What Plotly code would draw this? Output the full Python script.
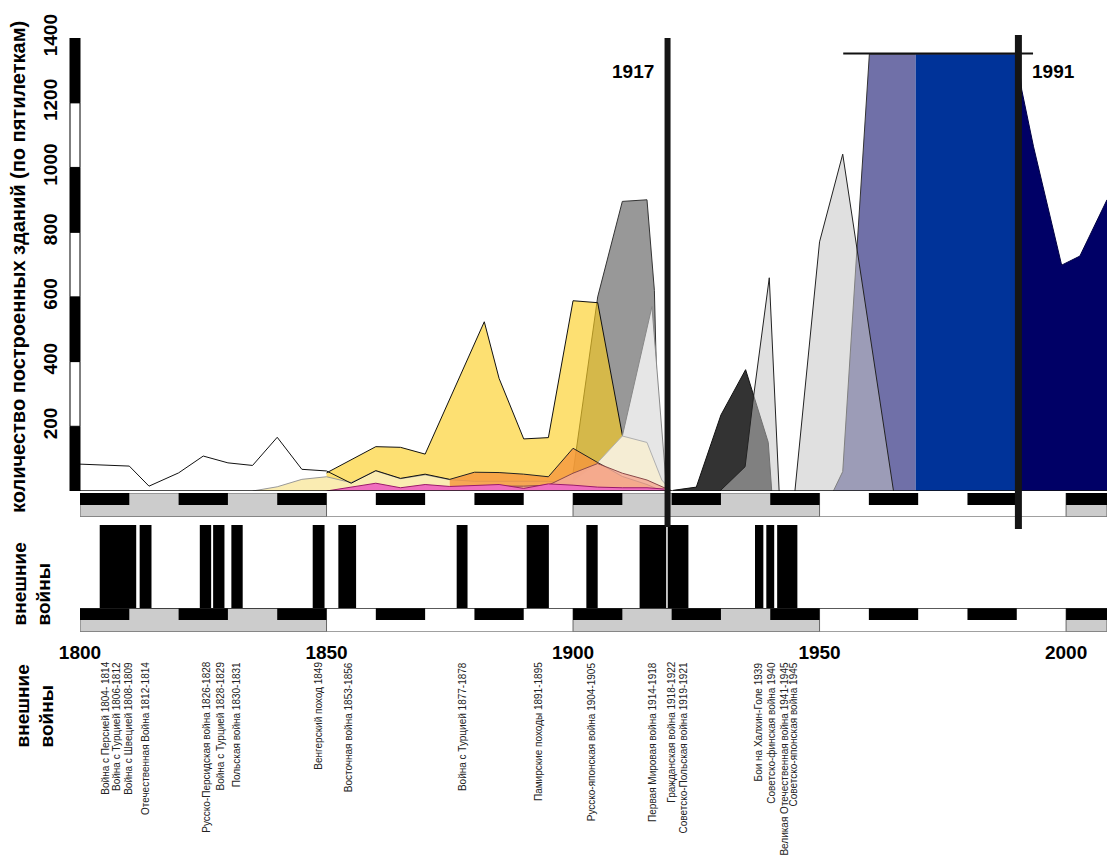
import plotly.graph_objects as go

W, H = 1107, 858
X_MIN, X_MAX = 1800, 2008.3
FONT = "Arial, Liberation Sans, sans-serif"

# ---- buildings per five-year period, one list pair per style ----
classic_years = [1800, 1810, 1814, 1820, 1825, 1830, 1835, 1840, 1845, 1850, 1855, 1860, 1865, 1870, 1875]
classic_vals = [83, 77, 15, 56, 108, 87, 79, 166, 67, 62, 24, 63, 39, 52, 36]

pale_years = [1835, 1840, 1845, 1850, 1855, 1860, 1865, 1870, 1875, 1880, 1885, 1890, 1895, 1900]
pale_vals = [0, 13, 36, 44, 26, 62, 38, 50, 35, 30, 30, 30, 30, 20]

eclectic_years = [1850, 1860, 1865, 1870, 1882, 1885, 1890, 1895, 1900, 1905, 1910]
eclectic_vals = [56, 137, 135, 114, 523, 348, 161, 165, 588, 582, 173]

orange_years = [1875, 1880, 1885, 1890, 1895, 1900, 1905, 1910, 1915, 1918]
orange_vals = [36, 58, 57, 52, 44, 132, 88, 45, 20, 0]

salmon_years = [1875, 1880, 1885, 1890, 1895, 1900, 1905, 1910, 1915, 1918, 1920]
salmon_vals = [10, 15, 15, 15, 18, 55, 85, 55, 34, 13, 0]

pink_years = [1850, 1855, 1860, 1865, 1870, 1875, 1880, 1885, 1890, 1895, 1900, 1905, 1910, 1915, 1918.5]
pink_vals = [0, 12, 24, 10, 20, 14, 16, 20, 8, 22, 18, 12, 10, 10, 6]

cream_years = [1900, 1905, 1910, 1915, 1918, 1920]
cream_vals = [30, 88, 170, 150, 34, 0]

neoclass_years = [1900, 1905, 1910, 1915, 1916.5, 1917.5]
neoclass_vals = [55, 600, 895, 900, 620, 0]

late_years = [1910, 1916, 1919]
late_vals = [170, 570, 0]

constr_years = [1920.3, 1925, 1930, 1935, 1939.6, 1940.3]
constr_vals = [2, 12, 235, 375, 150, 0]

stalin1_years = [1929.8, 1934.9, 1936.6, 1939.8, 1941.8]
stalin1_vals = [0, 75, 290, 659, 0]

stalin2_years = [1945, 1950, 1954.7, 1965]
stalin2_vals = [0, 770, 1041, 0]

typical_years = [1952.8, 1954.7, 1960.1, 1969.5]
typical_vals = [0, 60, 1350, 1350]

mass_years = [1969.5, 1990.3]
mass_vals = [1350, 1350]

modern_years = [1990.3, 1991.0, 1993.4, 1999.1, 2002.8, 2008.3]
modern_vals = [1350, 1240, 1064, 698, 726, 900]

# ---- external wars (as drawn) ----
war_start = [1804.0, 1812.1, 1824.3, 1827.0, 1830.7, 1847.2, 1852.4, 1876.4, 1890.6,
             1902.7, 1913.5, 1919.2, 1936.9, 1939.2, 1941.4]
war_end = [1811.4, 1814.5, 1826.6, 1829.3, 1833.0, 1849.6, 1856.0, 1878.6, 1895.1,
           1905.0, 1918.9, 1923.4, 1938.6, 1940.8, 1945.5]

war_label_x = [1805.1, 1807.4, 1809.8, 1813.3, 1825.6, 1828.4, 1831.8, 1848.2, 1854.4,
               1877.6, 1893.0, 1903.8, 1916.0, 1919.9, 1922.5, 1937.7, 1940.1, 1942.7, 1944.7]
war_labels = [
    "Война с Персией 1804- 1814",
    "Война с Турцией 1806-1812",
    "Война с Швецией 1808-1809",
    "Отечественная Война 1812-1814",
    "Русско-Персидская война 1826-1828",
    "Война с Турцией 1828-1829",
    "Польская война 1830-1831",
    "Венгерский поход 1849",
    "Восточная война 1853-1856",
    "Война с Турцией 1877-1878",
    "Памирские походы 1891-1895",
    "Русско-японская война 1904-1905",
    "Первая Мировая война 1914-1918",
    "Гражданская война 1918-1922",
    "Советско-Польская война 1919-1921",
    "Бои на Халхин-Голе 1939",
    "Советско-финская война 1940",
    "Великая Отечественная война 1941-1945",
    "Советско-японская война 1945",
]

year_ticks = [1800, 1850, 1900, 1950, 2000]
value_ticks = [200, 400, 600, 800, 1000, 1200, 1400]
decade_black = [1800, 1820, 1840, 1860, 1880, 1900, 1920, 1940, 1960, 1980, 2000]
half_century_gray = [1800, 1900, 2000]

revolution_x = 1919.17   # where the "1917" line sits on this chart
collapse_x = 1990.33     # where the "1991" line sits


def py(p):
    # pixel row -> paper y
    return 1 - p / H


fig = go.Figure()


def area(xs, ys, fill, line, width=1):
    fig.add_trace(go.Scatter(
        x=xs, y=ys, mode="lines", fill="tozeroy", fillcolor=fill,
        line=dict(color=line, width=width), xaxis="x", yaxis="y",
    ))


area(neoclass_years, neoclass_vals, "rgb(152,152,152)", "#333333")
area(eclectic_years, eclectic_vals, "rgba(252,204,25,0.61)", "#111111")
area(late_years, late_vals, "rgb(230,230,230)", "#888888")
area(pale_years, pale_vals, "rgb(250,236,178)", "#999999")
area(cream_years, cream_vals, "rgb(245,237,212)", "#b0b0b0")
area(orange_years, orange_vals, "rgba(245,150,60,0.8)", "#222222")
area(salmon_years, salmon_vals, "rgba(245,170,150,0.85)", "#8a4a4a")
area(pink_years, pink_vals, "rgb(240,110,190)", "#9a1a6a")
fig.add_trace(go.Scatter(x=classic_years, y=classic_vals, mode="lines",
                         line=dict(color="#111111", width=1), xaxis="x", yaxis="y"))
area(constr_years, constr_vals, "rgb(51,51,51)", "#111111")
area(stalin1_years, stalin1_vals, "rgba(196,196,196,0.53)", "#222222")
area(typical_years, typical_vals, "rgb(112,112,168)", "#333333")
area(stalin2_years, stalin2_vals, "rgba(196,196,196,0.53)", "#222222")
area(mass_years, mass_vals, "rgb(0,51,153)", "#1a2a6a")
area(modern_years, modern_vals, "rgb(0,0,102)", "#000044")

# war bars
fig.add_trace(go.Bar(
    x=[(s + e) / 2 for s, e in zip(war_start, war_end)],
    y=[1] * len(war_start), base=0,
    width=[e - s for s, e in zip(war_start, war_end)],
    marker=dict(color="black", line=dict(width=0)),
    xaxis="x", yaxis="y3",
))

shapes = []

# timeline bands under the chart and under the wars
for band in ["y2", "y4"]:
    for g in half_century_gray:
        shapes.append(dict(type="rect", xref="x", yref=band, x0=g, x1=min(g + 50, X_MAX),
                           y0=0, y1=1, fillcolor="rgb(204,204,204)",
                           line=dict(color="#666666", width=1)))
    for d in decade_black:
        shapes.append(dict(type="rect", xref="x", yref=band, x0=d, x1=min(d + 10, X_MAX),
                           y0=0.5, y1=1, fillcolor="black", line=dict(width=0)))
    shapes.append(dict(type="line", xref="paper", yref=band, x0=0, x1=1, y0=0, y1=0,
                       line=dict(color="#808080", width=1.5)))
shapes.append(dict(type="line", xref="paper", yref="y4", x0=0, x1=1, y0=1, y1=1,
                   line=dict(color="#222222", width=1.5)))

# baseline of the main chart
shapes.append(dict(type="line", xref="paper", yref="y", x0=0, x1=1, y0=0, y1=0,
                   line=dict(color="#111111", width=1.5)))

# black/white scale bar along the value axis
bar_x0 = -10 / 1027
for i, v in enumerate([0] + value_ticks[:-1]):
    shapes.append(dict(type="rect", xref="paper", yref="y", x0=bar_x0, x1=0,
                       y0=v, y1=v + 200, fillcolor="black" if i % 2 == 0 else "white",
                       line=dict(color="black", width=1)))

# cap line over the blue blocks
shapes.append(dict(type="line", xref="x", yref="y", x0=1954.8, x1=1993.3, y0=1352, y1=1352,
                   line=dict(color="#111111", width=2)))

# 1917 and 1991
shapes.append(dict(type="line", xref="x", yref="paper", x0=revolution_x, x1=revolution_x,
                   y0=py(527), y1=py(38), line=dict(color="#151515", width=6)))
shapes.append(dict(type="line", xref="x", yref="paper", x0=collapse_x, x1=collapse_x,
                   y0=py(529), y1=py(35), line=dict(color="#151515", width=7)))

annotations = []
for xv, txt in zip(war_label_x, war_labels):
    annotations.append(dict(x=xv, xref="x", y=py(660), yref="paper", text=txt,
                            textangle=-90, xanchor="center", yanchor="top", showarrow=False,
                            font=dict(family=FONT, size=10, color="#222222")))

annotations += [
    dict(x=revolution_x, xref="x", xshift=-12, y=py(71), yref="paper", text="1917",
         xanchor="right", yanchor="middle", showarrow=False,
         font=dict(family=FONT, size=19, color="black", weight="bold")),
    dict(x=collapse_x, xref="x", xshift=12, y=py(71), yref="paper", text="1991",
         xanchor="left", yanchor="middle", showarrow=False,
         font=dict(family=FONT, size=19, color="black", weight="bold")),
    dict(x=(18 - 80) / 1027, xref="paper", y=py(267), yref="paper",
         text="количество построенных зданий (по пятилеткам)", textangle=-90,
         xanchor="center", yanchor="middle", showarrow=False,
         font=dict(family=FONT, size=20, color="black", weight="bold")),
    dict(x=(31 - 80) / 1027, xref="paper", y=py(628), yref="paper",
         text="внешние<br>войны", textangle=-90, align="left",
         xanchor="center", yanchor="bottom", showarrow=False,
         font=dict(family=FONT, size=19, color="black", weight="bold")),
    dict(x=(34 - 80) / 1027, xref="paper", y=py(750), yref="paper",
         text="внешние<br>войны", textangle=-90, align="left",
         xanchor="center", yanchor="bottom", showarrow=False,
         font=dict(family=FONT, size=19, color="black", weight="bold")),
]

fig.update_layout(
    width=W, height=H,
    margin=dict(l=80, r=0, t=0, b=0, autoexpand=False),
    paper_bgcolor="white", plot_bgcolor="white",
    showlegend=False, hovermode=False,
    shapes=shapes, annotations=annotations,
    xaxis=dict(range=[X_MIN, X_MAX], domain=[0, 1], anchor="y4", automargin=False,
               tickvals=year_ticks, ticktext=[str(t) for t in year_ticks],
               tickfont=dict(family=FONT, size=19, color="black", weight="bold"),
               ticks="outside", ticklen=3, tickcolor="rgba(0,0,0,0)",
               showgrid=False, zeroline=False, showline=False),
    yaxis=dict(domain=[py(491), py(38)], range=[0, 1400], anchor="x", automargin=False,
               tickvals=value_ticks, tickangle=-90,
               tickfont=dict(family=FONT, size=19, color="black", weight="bold"),
               ticks="outside", ticklen=14, tickcolor="rgba(0,0,0,0)",
               showgrid=False, zeroline=False, showline=False),
    yaxis2=dict(domain=[py(517), py(493)], range=[0, 1], anchor="x", visible=False),
    yaxis3=dict(domain=[py(608), py(525)], range=[0, 1], anchor="x", visible=False),
    yaxis4=dict(domain=[py(632), py(608)], range=[0, 1], anchor="x", visible=False),
)

# drop the page's default body margin so the figure fills the window
fig.write_html(
    "out.html",
    config={"displayModeBar": False},
    post_script="document.body.style.margin='0px';document.body.style.overflow='hidden';",
)
